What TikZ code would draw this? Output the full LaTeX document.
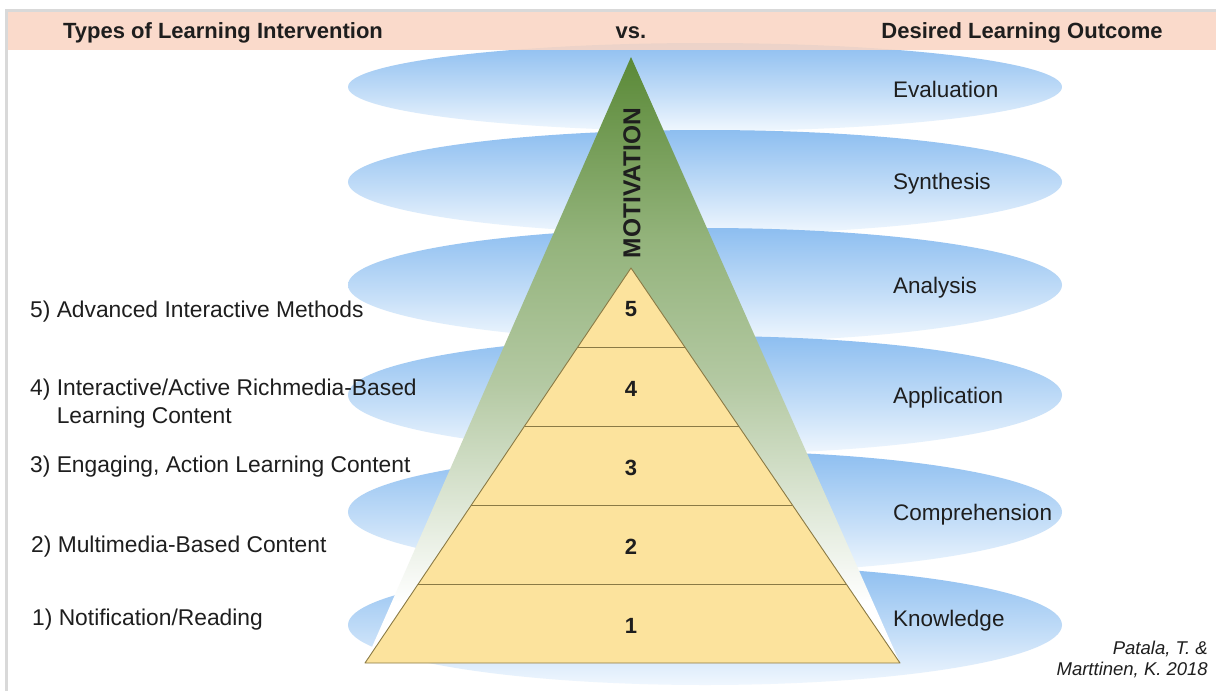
\documentclass[tikz,border=0pt]{standalone}
\usepackage{fontspec}
\setmainfont{Liberation Sans}
\usepackage{xcolor}
\usetikzlibrary{positioning,calc}
\definecolor{frameGray}{HTML}{D9D9D9}
\definecolor{peach}{HTML}{FAD6C4}
\definecolor{cloudTop}{HTML}{8DBEF0}
\definecolor{cloudMid}{HTML}{C6DFF8}
\definecolor{cloudLow}{HTML}{F0F7FE}
\definecolor{motivTop}{HTML}{5A8937}
\definecolor{motivUp}{HTML}{93B37B}
\definecolor{motivMid}{HTML}{B4C9A3}
\definecolor{pyrFill}{HTML}{FCE39D}
\definecolor{pyrLine}{HTML}{8A7A45}
\definecolor{ink}{HTML}{1E1E1E}

\pgfdeclareverticalshading{cloudshade}{100bp}{color(0bp)=(cloudLow); color(25bp)=(cloudLow); color(45bp)=(cloudMid); color(75bp)=(cloudTop); color(100bp)=(cloudTop)}
\pgfdeclareverticalshading{motivshade}{100bp}{color(0bp)=(white); color(25bp)=(white); color(30bp)=(white); color(48bp)=(motivMid); color(60bp)=(motivUp); color(75bp)=(motivTop); color(100bp)=(motivTop)}

\begin{document}
\begin{tikzpicture}[
  x=1pt, y=-1pt,
  every node/.style={text=ink, inner sep=0pt},
  head/.style   ={font=\fontsize{22}{24}\selectfont\bfseries},
  method/.style ={font=\fontsize{22.8}{28}\selectfont, anchor=west, align=left},
  outcome/.style={font=\fontsize{22.5}{26}\selectfont, anchor=west},
  level/.style  ={font=\fontsize{22}{24}\selectfont\bfseries},
  cite/.style   ={font=\fontsize{18.5}{21}\selectfont\itshape, anchor=east, align=right},
  cloudband/.style={shading=cloudshade},
  pyr/.style    ={fill=pyrFill, draw=pyrLine, line width=0.9pt, line join=round},
]
\useasboundingbox (0,0) rectangle (1216,691);

% ── Frame and page ──
\fill[frameGray] (5,9) rectangle (1216,691);
\fill[white]     (8,12) rectangle (1216,691);

% ── Outcome bands (lower ones on top) ──
\foreach \cy/\ry in {87/44, 182/52, 285/57, 395/59, 512/61, 625/60}
  \shade[cloudband] (705,\cy) ellipse [x radius=357, y radius=\ry];

% ── Header band ──
\fill[peach, opacity=0.88] (8,12) rectangle (1216,50);
\node[head] (hLeft)  at (223,33)  {Types of Learning Intervention};
\node[head] (hMid)   at (631,33)  {vs.};
\node[head] (hRight) at (1022,33) {Desired Learning Outcome};

% ── Motivation triangle ──
\coordinate (gtop) at (631,57);
\coordinate (ytop) at (631,268);
\coordinate (bl)   at (365,663);
\coordinate (br)   at (900,663);
\shade[shading=motivshade] (gtop) -- (br) -- (bl) -- cycle;
\node[font=\fontsize{24.5}{26}\selectfont\bfseries, rotate=90] (motiv) at (632,183) {MOTIVATION};

% ── Intervention pyramid ──
\draw[pyr] (ytop) -- (br) -- (bl) -- cycle;
\foreach \t in {0.2,0.4,0.6,0.8}
  \draw[pyrLine, line width=0.9pt] ($(ytop)!\t!(bl)$) -- ($(ytop)!\t!(br)$);
\foreach \n/\t in {5/0.1, 4/0.3, 3/0.5, 2/0.7, 1/0.9}
  \node[level] (lvl\n) at ($(ytop)!\t!(631,663) + (0,2)$) {\n};

% ── Intervention types (left) ──
\node[method] (m5) at (30,312) {5) Advanced Interactive Methods};
\node[method] (m4) at (30,404) {4) Interactive/Active Richmedia-Based\\\hphantom{4)\ }Learning Content};
\node[method] (m3) at (30,467) {3) Engaging, Action Learning Content};
\node[method] (m2) at (31,547) {2) Multimedia-Based Content};
\node[method] (m1) at (32,620) {1) Notification/Reading};

% ── Learning outcomes (right) ──
\node[outcome] (oEval)  at (893,89)  {Evaluation};
\node[outcome] (oSynth) at (893,184) {Synthesis};
\node[outcome] (oAnal)  at (893,288) {Analysis};
\node[outcome] (oAppl)  at (893,398) {Application};
\node[outcome] (oComp)  at (893,515) {Comprehension};
\node[outcome] (oKnow)  at (893,621) {Knowledge};

% ── Source ──
\node[cite] (src) at (1208,659) {Patala, T. \&\\Marttinen, K. 2018};
\end{tikzpicture}
\end{document}
